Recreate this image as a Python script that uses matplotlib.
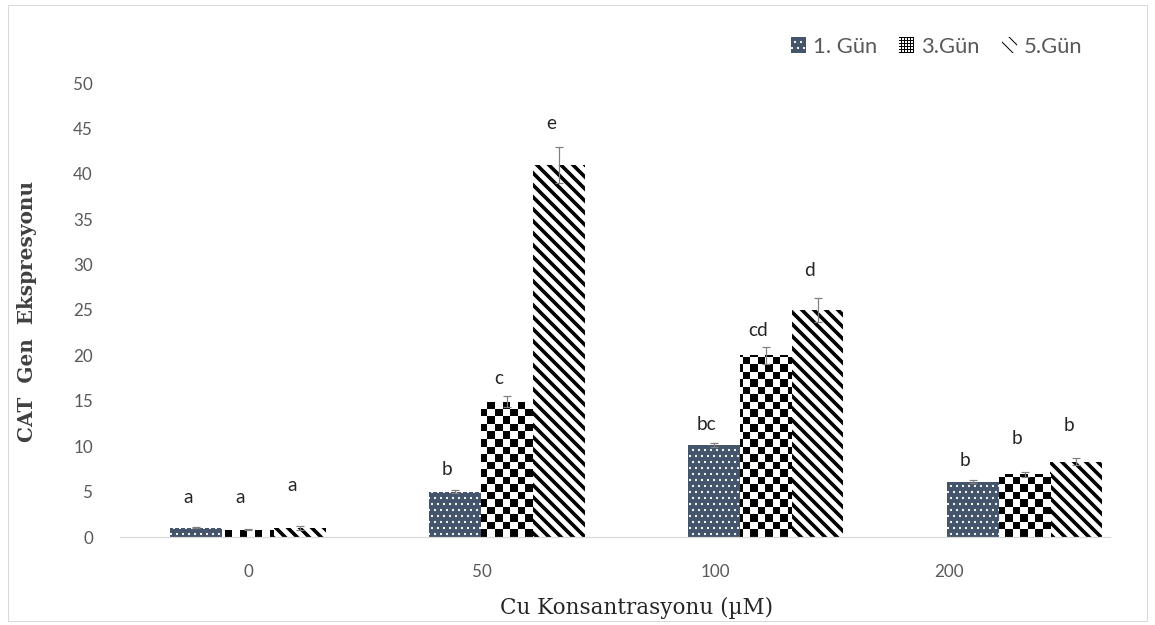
import matplotlib

matplotlib.use("Agg")
import matplotlib.pyplot as plt
import numpy as np
from matplotlib.patches import Patch, Rectangle

# Data
categories = ["0", "50", "100", "200"]
series_names = ["1. Gün", "3.Gün", "5.Gün"]
day1 = [1.0, 5.0, 10.1, 6.1]
day3 = [0.8, 14.9, 20.0, 6.9]
day5 = [1.0, 41.0, 25.0, 8.3]
day1_err = [0.05, 0.2, 0.2, 0.15]
day3_err = [0.05, 0.6, 0.9, 0.3]
day5_err = [0.2, 2.0, 1.3, 0.4]
day1_letters = ["a", "b", "bc", "b"]
day3_letters = ["a", "c", "cd", "b"]
day5_letters = ["a", "e", "d", "b"]

# layout only: extra lift of each letter above its error bar (data units)
LETTER_PAD = [
    [3.3, 2.2, 2.1, 2.2],
    [3.5, 2.0, 1.8, 3.6],
    [4.5, 2.5, 3.0, 3.6],
]

W, H, DPI = 1155, 625, 72
BAR_W = 0.2
XLIM = (-0.495, 3.33)
YLIM = (0, 50)
NAVY = "#44546A"
TICK_GREY = "#595959"

fig = plt.figure(figsize=(W / DPI, H / DPI), dpi=DPI)
fig.patches.append(Rectangle((8 / W, 4 / H), 1139 / W, 616 / H, transform=fig.transFigure,
                             fill=False, edgecolor="#d9d9d9", linewidth=1))
ax_left, ax_bottom, ax_w, ax_h = 120, 88, 990, 454
ax = fig.add_axes([ax_left / W, ax_bottom / H, ax_w / W, ax_h / H])

x = np.arange(len(categories))
offsets = [-BAR_W, 0.0, BAR_W]


def set_hatch_lw(bars, lw):
    for b in bars:
        if hasattr(b, "set_hatch_linewidth"):
            b.set_hatch_linewidth(lw)


with plt.rc_context({"hatch.linewidth": 1.0}):
    b1 = ax.bar(x + offsets[0], day1, BAR_W, color=NAVY, edgecolor="white",
                linewidth=0, hatch="..", zorder=2)
set_hatch_lw(b1, 1.0)

b3 = ax.bar(x + offsets[1], day3, BAR_W, color="white", edgecolor="black",
            linewidth=0, zorder=2)

with plt.rc_context({"hatch.linewidth": 3.6}):
    b5 = ax.bar(x + offsets[2], day5, BAR_W, color="white", edgecolor="black",
                linewidth=0, hatch="\\\\", zorder=2)
set_hatch_lw(b5, 3.6)

# checkerboard fill for day 3, clipped to each bar
sq = 7.5
nx, ny = int(ax_w / sq) + 1, int(ax_h / sq) + 1
checker = np.add.outer(np.arange(ny), np.arange(nx)) % 2
x1 = XLIM[0] + nx * sq * (XLIM[1] - XLIM[0]) / ax_w
y1 = YLIM[0] + ny * sq * (YLIM[1] - YLIM[0]) / ax_h
for bar in b3:
    im = ax.imshow(checker, cmap="gray", extent=(XLIM[0], x1, YLIM[0], y1), origin="lower",
                   aspect="auto", interpolation="nearest", zorder=2.1)
    im.set_clip_path(bar)

for vals, errs, off in [(day1, day1_err, offsets[0]), (day3, day3_err, offsets[1]),
                        (day5, day5_err, offsets[2])]:
    ax.errorbar(x + off, vals, yerr=errs, fmt="none", ecolor="#7f7f7f", elinewidth=1.2,
                capsize=4, capthick=1.2, zorder=3)

for s, (vals, errs, letters) in enumerate([(day1, day1_err, day1_letters),
                                           (day3, day3_err, day3_letters),
                                           (day5, day5_err, day5_letters)]):
    for i in range(len(categories)):
        ax.text(x[i] + offsets[s] - 0.03, vals[i] + errs[i] + LETTER_PAD[s][i], letters[i],
                ha="center", va="center", fontsize=19, color="#262626", family="Lato")

ax.set_xlim(*XLIM)
ax.set_ylim(*YLIM)
ax.set_yticks(np.arange(0, 51, 5))
ax.set_xticks(x * 0.903, categories)
ax.tick_params(axis="both", length=0, labelsize=17, labelcolor=TICK_GREY)
ax.tick_params(axis="y", pad=27)
ax.tick_params(axis="x", pad=27)
for lab in ax.get_xticklabels() + ax.get_yticklabels():
    lab.set_family("Lato")
for side in ["top", "right", "left"]:
    ax.spines[side].set_visible(False)
ax.spines["bottom"].set_color("#d9d9d9")
ax.spines["bottom"].set_linewidth(1.2)

ax.set_xlabel("Cu Konsantrasyonu (µM)", family="DejaVu Serif", fontsize=21.5,
              color="#262626")
ax.xaxis.set_label_coords((637 - ax_left) / ax_w, -(602 - 542) / ax_h)
ax.set_ylabel("CAT  Gen  Ekspresyonu", family="DejaVu Serif", fontsize=20,
              fontweight="bold", color="#404040")
ax.yaxis.set_label_coords(-(ax_left - 37) / ax_w, (542 - 316) / ax_h)

checker_proxy = Patch(facecolor="white", edgecolor="black", hatch="++++", linewidth=0)
leg = ax.legend([b1[0], checker_proxy, b5[0]], series_names, ncol=3, frameon=False,
                loc="upper right", bbox_to_anchor=(1102 / W, (H - 17) / H),
                bbox_transform=fig.transFigure, handlelength=0.7, handleheight=0.7,
                handletextpad=0.3, columnspacing=1.0, prop={"family": "Lato", "size": 22})
for t in leg.get_texts():
    t.set_color(TICK_GREY)

fig.savefig("out.png", dpi=DPI)
